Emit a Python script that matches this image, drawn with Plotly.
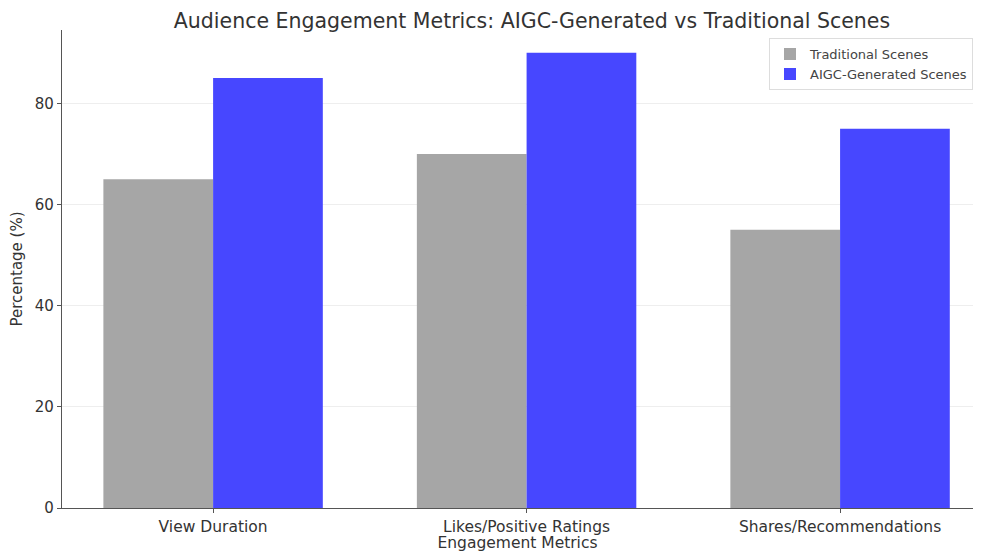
import plotly.graph_objects as go

categories = ["View Duration", "Likes/Positive Ratings", "Shares/Recommendations"]
traditional = [65, 70, 55]
aigc = [85, 90, 75]

fig = go.Figure()
fig.add_trace(go.Bar(x=categories, y=traditional, name="Traditional Scenes",
                     marker=dict(color="#a6a6a6", line=dict(width=0))))
fig.add_trace(go.Bar(x=categories, y=aigc, name="AIGC-Generated Scenes",
                     marker=dict(color="#4747ff", line=dict(width=0))))

fig.update_layout(
    width=965, height=544,
    barmode="group", bargap=0.3, bargroupgap=0,
    plot_bgcolor="white", paper_bgcolor="white",
    font=dict(family="DejaVu Sans", color="#333333", size=15),
    title=dict(text="Audience Engagement Metrics: AIGC-Generated vs Traditional Scenes",
               x=0.543, xanchor="center", y=0.99, yanchor="top", pad=dict(t=0, b=0),
               font=dict(size=20.5, color="#333333")),
    margin=dict(l=54, r=0, t=22, b=44),
    showlegend=True,
    legend=dict(x=1.0, xanchor="right", y=0.983, yanchor="top",
                bgcolor="rgba(255,255,255,0.8)", bordercolor="#dddddd", borderwidth=1,
                font=dict(size=13, color="#444444"), tracegroupgap=0,
                itemwidth=30),
    xaxis=dict(range=[-0.482, 2.424], showline=True, linecolor="#555555", linewidth=1.2,
               ticks="outside", ticklen=4, tickcolor="#555555",
               showgrid=False, tickfont=dict(size=15.5, color="#333333"),
               title=dict(text="Engagement Metrics", font=dict(size=15.5, color="#333333"), standoff=2)),
    yaxis=dict(range=[0, 94.5], showline=True, linecolor="#555555", linewidth=1.2,
               ticks="outside", ticklen=4, tickcolor="#555555",
               tickvals=[0, 20, 40, 60, 80],
               showgrid=True, gridcolor="#eeeeee", gridwidth=1, zeroline=False,
               tickfont=dict(size=15, color="#333333"),
               title=dict(text="Percentage (%)", font=dict(size=15, color="#333333"), standoff=10)),
)

fig.write_html("out.html")
